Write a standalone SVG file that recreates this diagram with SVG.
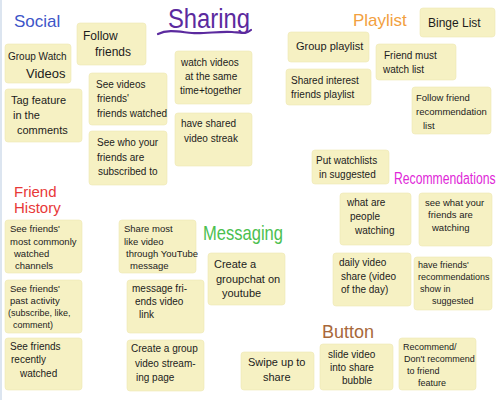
<svg xmlns="http://www.w3.org/2000/svg" width="500" height="400" viewBox="0 0 500 400">
  <style>
    .note rect { fill: #f6f1c3; stroke: #efe8b4; stroke-width: 0.6; }
    .note text { font-family: "Liberation Sans", Arial, sans-serif; fill: #1c1c1c; font-size: 10px; }
    .title { font-family: "Liberation Sans", Arial, sans-serif; }
    .s9 { font-size: 9px !important; }
    .s95 { font-size: 9.5px !important; }
    .s11 { font-size: 11px !important; }
    .s12 { font-size: 12px !important; }
    .s13 { font-size: 13px !important; }
  </style>

  <rect x="0" y="0" width="500" height="400" fill="#ffffff"/>
  <line x1="1" y1="0" x2="1" y2="400" stroke="#dce5f0" stroke-width="2"/>

  <!-- Section headings -->
  <g id="headings">
    <text class="title" x="14" y="27" font-size="17" fill="#3d55c8">Social</text>
    <text class="title" x="168" y="28" font-size="27" fill="#5b2a9e" textLength="82" lengthAdjust="spacingAndGlyphs">Sharing</text>
    <path d="M158,34 C168,29 180,32 192,33 S220,31 232,32 S246,34 251,30" fill="none" stroke="#5b2a9e" stroke-width="2.2" stroke-linecap="round"/>
    <text class="title" x="353" y="26" font-size="17" fill="#f2a040">Playlist</text>
    <text class="title" x="14" y="197" font-size="15" fill="#e83838">Friend</text>
    <text class="title" x="14" y="213" font-size="15" fill="#e83838">History</text>
    <text class="title" x="203" y="240" font-size="21" fill="#4cc050" textLength="80" lengthAdjust="spacingAndGlyphs">Messaging</text>
    <text class="title" transform="translate(394,184) scale(1,1.3)" x="0" y="0" font-size="12.2" fill="#e028d8">Recommendations</text>
    <text class="title" x="322" y="338" font-size="18" fill="#a8683a">Button</text>
  </g>

  <!-- Social -->
  <g id="follow-friends" class="note">
    <rect x="77" y="23" width="69" height="42" rx="3"/>
    <text class="s12" x="83" y="40">Follow</text>
    <text class="s12" x="95" y="56">friends</text>
  </g>
  <g id="group-watch" class="note">
    <rect x="5" y="44" width="66" height="39" rx="3"/>
    <text x="8" y="60">Group Watch</text>
    <text class="s13" x="26" y="78">Videos</text>
  </g>
  <g id="tag-feature" class="note">
    <rect x="5" y="89" width="77" height="53" rx="3"/>
    <text class="s11" x="11" y="104">Tag feature</text>
    <text class="s11" x="13" y="119">in the</text>
    <text class="s11" x="17" y="134">comments</text>
  </g>
  <g id="friends-watched" class="note">
    <rect x="89" y="73" width="78" height="52" rx="3"/>
    <text x="96" y="88">See videos</text>
    <text x="97" y="102">friends'</text>
    <text x="97" y="117">friends watched</text>
  </g>
  <g id="friends-subscribed" class="note">
    <rect x="89" y="131" width="78" height="54" rx="3"/>
    <text x="97" y="146">See who your</text>
    <text x="97" y="161">friends are</text>
    <text x="98" y="175">subscribed to</text>
  </g>

  <!-- Sharing -->
  <g id="watch-together" class="note">
    <rect x="175" y="51" width="77" height="53" rx="3"/>
    <text x="181" y="66">watch videos</text>
    <text x="185" y="80">at the same</text>
    <text x="180" y="94">time+together</text>
  </g>
  <g id="video-streak" class="note">
    <rect x="175" y="113" width="77" height="53" rx="3"/>
    <text x="181" y="127">have shared</text>
    <text x="184" y="142">video streak</text>
  </g>

  <!-- Playlist -->
  <g id="binge-list" class="note">
    <rect x="420" y="8" width="75" height="29" rx="3"/>
    <text class="s12" x="428" y="27">Binge List</text>
  </g>
  <g id="group-playlist" class="note">
    <rect x="288" y="32" width="81" height="30" rx="3"/>
    <text class="s11" x="296" y="50">Group playlist</text>
  </g>
  <g id="must-watch" class="note">
    <rect x="376" y="44" width="80" height="36" rx="3"/>
    <text x="384" y="59">Friend must</text>
    <text x="383" y="73">watch list</text>
  </g>
  <g id="shared-interest" class="note">
    <rect x="286" y="69" width="85" height="36" rx="3"/>
    <text x="291" y="84">Shared interest</text>
    <text x="291" y="98">friends playlist</text>
  </g>
  <g id="recommendation-list" class="note">
    <rect x="412" y="87" width="79" height="47" rx="3"/>
    <text class="s95" x="416" y="101">Follow friend</text>
    <text class="s95" x="416" y="115">recommendation</text>
    <text class="s95" x="423" y="129">list</text>
  </g>
  <g id="watchlists-suggested" class="note">
    <rect x="312" y="150" width="77" height="34" rx="3"/>
    <text x="316" y="164">Put watchlists</text>
    <text x="319" y="178">in suggested</text>
  </g>

  <!-- Friend History -->
  <g id="common-channels" class="note">
    <rect x="5" y="220" width="77" height="53" rx="3"/>
    <text class="s95" x="10" y="232">See friends'</text>
    <text class="s95" x="10" y="245">most commonly</text>
    <text class="s95" x="14" y="257">watched</text>
    <text class="s95" x="15" y="269">channels</text>
  </g>
  <g id="past-activity" class="note">
    <rect x="5" y="280" width="77" height="53" rx="3"/>
    <text class="s95" x="10" y="292">See friends'</text>
    <text class="s95" x="10" y="304">past activity</text>
    <text class="s9" x="8" y="316">(subscribe, like,</text>
    <text class="s9" x="13" y="328">comment)</text>
  </g>
  <g id="recently-watched" class="note">
    <rect x="5" y="338" width="77" height="52" rx="3"/>
    <text x="10" y="350">See friends</text>
    <text x="11" y="363">recently</text>
    <text x="20" y="377">watched</text>
  </g>

  <!-- Messaging -->
  <g id="share-liked" class="note">
    <rect x="119" y="220" width="77" height="53" rx="3"/>
    <text class="s95" x="124" y="232">Share most</text>
    <text class="s95" x="124" y="245">like video</text>
    <text class="s95" x="126" y="257">through YouTube</text>
    <text class="s95" x="130" y="269">message</text>
  </g>
  <g id="message-link" class="note">
    <rect x="127" y="280" width="77" height="53" rx="3"/>
    <text x="132" y="292">message fri-</text>
    <text x="135" y="305">ends video</text>
    <text x="139" y="318">link</text>
  </g>
  <g id="group-streaming" class="note">
    <rect x="127" y="340" width="77" height="51" rx="3"/>
    <text x="131" y="352">Create a group</text>
    <text x="135" y="367">video stream-</text>
    <text x="136" y="381">ing page</text>
  </g>
  <g id="groupchat" class="note">
    <rect x="208" y="253" width="77" height="52" rx="3"/>
    <text class="s11" x="214" y="268">Create a</text>
    <text class="s11" x="216" y="283">groupchat on</text>
    <text class="s11" x="222" y="297">youtube</text>
  </g>

  <!-- Recommendations -->
  <g id="people-watching" class="note">
    <rect x="340" y="193" width="71" height="52" rx="3"/>
    <text x="347" y="206">what are</text>
    <text x="350" y="220">people</text>
    <text x="355" y="234">watching</text>
  </g>
  <g id="friends-watching" class="note">
    <rect x="419" y="193" width="73" height="53" rx="3"/>
    <text class="s95" x="425" y="206">see what your</text>
    <text class="s95" x="428" y="218">friends are</text>
    <text class="s95" x="432" y="231">watching</text>
  </g>
  <g id="daily-video" class="note">
    <rect x="333" y="253" width="78" height="53" rx="3"/>
    <text x="339" y="266">daily video</text>
    <text x="341" y="280">share (video</text>
    <text x="341" y="293">of the day)</text>
  </g>
  <g id="friend-recommendations" class="note">
    <rect x="414" y="257" width="78" height="53" rx="3"/>
    <text class="s9" x="418" y="268">have friends'</text>
    <text class="s9" x="418" y="280">recommendations</text>
    <text class="s9" x="420" y="292">show in</text>
    <text class="s9" x="432" y="304">suggested</text>
  </g>

  <!-- Button -->
  <g id="swipe-up" class="note">
    <rect x="241" y="352" width="73" height="38" rx="3"/>
    <text class="s11" x="248" y="366">Swipe up to</text>
    <text class="s11" x="263" y="381">share</text>
  </g>
  <g id="slide-video" class="note">
    <rect x="320" y="344" width="73" height="46" rx="3"/>
    <text x="328" y="358">slide video</text>
    <text x="330" y="371">into share</text>
    <text x="342" y="384">bubble</text>
  </g>
  <g id="recommend-toggle" class="note">
    <rect x="399" y="338" width="77" height="52" rx="3"/>
    <text class="s9" x="403" y="350">Recommend/</text>
    <text class="s9" x="404" y="362">Don't recommend</text>
    <text class="s9" x="407" y="374">to friend</text>
    <text class="s9" x="418" y="386">feature</text>
  </g>
</svg>
